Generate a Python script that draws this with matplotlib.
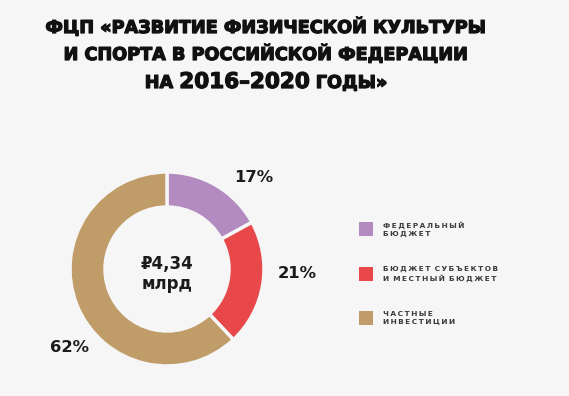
import matplotlib.pyplot as plt
import matplotlib.patheffects as pe
from matplotlib.patches import Rectangle

# data
labels = ["ФЕДЕРАЛЬНЫЙ\nБЮДЖЕТ", "БЮДЖЕТ СУБЪЕКТОВ\nИ МЕСТНЫЙ БЮДЖЕТ", "ЧАСТНЫЕ\nИНВЕСТИЦИИ"]
shares = [17, 21, 62]
colors = ["#b48bc0", "#e8484a", "#c09c68"]
total_text = ["₽4,34", "млрд"]

BG = "#f6f6f6"
INK = "#1b1b1b"
H = 396

plt.rcParams["font.family"] = ["DejaVu Sans"]

fig = plt.figure(figsize=(5.69, 3.96), dpi=100, facecolor=BG)
ax = fig.add_axes([0, 0, 1, 1])
ax.set_facecolor(BG)

cx, cy = 167, H - 269
ax.pie(shares, colors=colors, startangle=90, counterclock=False,
       center=(cx, cy), radius=97,
       wedgeprops=dict(width=35, edgecolor=BG, linewidth=2.5))
ax.set_xlim(0, 569)
ax.set_ylim(0, H)
ax.set_aspect("auto")
ax.axis("off")

# percent labels
pct_pos = [(254, 178), (297, 274), (70, 347)]
for v, (x, y) in zip(shares, pct_pos):
    ax.text(x, H - y, f"{v}%", ha="center", va="center", fontsize=11.8,
            fontweight="bold", color=INK)

# centre text
ax.text(cx, H - 264, total_text[0], ha="center", va="center", fontsize=12,
        fontweight="bold", color=INK)
ax.text(cx, H - 284, total_text[1], ha="center", va="center", fontsize=12,
        fontweight="bold", color=INK)

# title
heavy = [pe.withStroke(linewidth=0.9, foreground="#111")]
tcx = 266
ax.text(tcx, H - 33, "ФЦП «РАЗВИТИЕ ФИЗИЧЕСКОЙ КУЛЬТУРЫ", ha="center",
        va="baseline", fontsize=12.7, fontweight="bold", color="#111",
        path_effects=heavy)
ax.text(tcx, H - 60, "И СПОРТА В РОССИЙСКОЙ ФЕДЕРАЦИИ", ha="center",
        va="baseline", fontsize=12.7, fontweight="bold", color="#111",
        path_effects=heavy)

parts = [("НА ", 12.7), ("2016–2020", 15.5), (" ГОДЫ»", 12.7)]
r = fig.canvas.get_renderer()
texts = []
for s, fs in parts:
    texts.append(ax.text(0, H - 88, s, ha="left", va="baseline", fontsize=fs,
                         fontweight="bold", color="#111", path_effects=heavy))
widths = [t.get_window_extent(r).width for t in texts]
x = tcx - sum(widths) / 2
for t, w in zip(texts, widths):
    t.set_x(x)
    x += w


def spaced(s):
    return "\n".join(" \u2009".join("\u2009".join(w) for w in line.split(" "))
                     for line in s.split("\n"))


# legend
leg_y = [229, 274, 318]
for lab, col, y in zip(labels, colors, leg_y):
    ax.add_patch(Rectangle((359, H - y - 7), 14, 14, color=col, lw=0))
    ax.text(383, H - y, spaced(lab), ha="left", va="center", fontsize=5.3,
            fontweight="bold", color="#3a3a3a", linespacing=1.35)

fig.savefig("out.png", dpi=100, facecolor=BG)
